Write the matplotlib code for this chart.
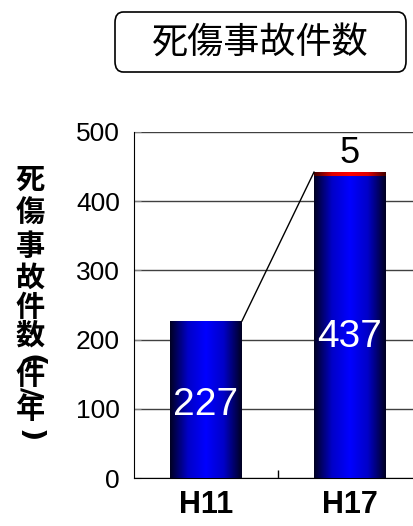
import numpy as np
import matplotlib
matplotlib.use("Agg")
import matplotlib.pyplot as plt
from matplotlib.colors import LinearSegmentedColormap
from matplotlib.patches import FancyBboxPatch

plt.rcParams['font.family'] = ['Liberation Sans', 'Noto Sans CJK JP', 'DejaVu Sans']

# data
years = ['H11', 'H17']
base = [227, 437]
extra = [0, 5]
yticks = [0, 100, 200, 300, 400, 500]
title = '死傷事故件数'
ylabel_chars = ['死', '傷', '事', '故', '件', '数', '(', '件', '/', '年', ')']

W, H = 413, 526
fig = plt.figure(figsize=(W / 100, H / 100), dpi=100)
# axes in pixel terms: x from 134 to 422, y 0 at 478, 500 at 132
ax = fig.add_axes([134 / W, (H - 478) / H, (422 - 134) / W, (478 - 132) / H])

blue_cm = LinearSegmentedColormap.from_list('b', ['#000022', '#0000c8', '#0000ff', '#0000c8', '#000022'])
red_cm = LinearSegmentedColormap.from_list('r', ['#400000', '#e00000', '#ff0000', '#e00000', '#400000'])
grad = np.linspace(0, 1, 200).reshape(1, -1)

bw = 0.5
x = np.arange(len(years))

def grad_bar(xc, y0, h, cmap):
    if h <= 0:
        return
    bars = ax.bar(xc, h, bw, bottom=y0, color='none', edgecolor='none', zorder=3)
    im = ax.imshow(grad, cmap=cmap, aspect='auto', zorder=3,
                   extent=[xc - bw / 2, xc + bw / 2, y0, y0 + h])
    im.set_clip_path(bars[0])

for i in range(len(years)):
    grad_bar(x[i], 0, base[i], blue_cm)
    grad_bar(x[i], base[i], extra[i], red_cm)

ax.set_xlim(-0.5, 1.5)
ax.set_ylim(0, 500)

# series line between stacks
tops = [b + e for b, e in zip(base, extra)]
ax.plot([x[0] + bw / 2, x[1] - bw / 2], [tops[0], tops[1]], color='black', lw=1, zorder=4)

# value labels
for i in range(len(years)):
    ax.text(x[i], base[i] * 0.465, str(base[i]), color='white', ha='center', va='center',
            fontsize=28, zorder=5)
ax.text(x[1], tops[1] + 1, str(extra[1]), color='black', ha='center', va='bottom', fontsize=26, zorder=5)

ax.set_yticks(yticks)
ax.set_yticklabels([str(v) for v in yticks], fontsize=19)
ax.tick_params(axis='y', direction='in', length=5, color='#808080', pad=10)
ax.yaxis.grid(True, color='#404040', lw=1)
ax.set_axisbelow(True)

ax.set_xticks([0.5])
ax.set_xticklabels([''])
ax.tick_params(axis='x', direction='in', length=6, width=1)
for i, lab in enumerate(years):
    ax.text(x[i], -39, lab, ha='center', va='center', fontsize=22, fontweight='bold')

for s in ['top', 'right']:
    ax.spines[s].set_visible(False)
ax.spines['left'].set_color('black')
ax.spines['bottom'].set_color('black')

# title box
box = FancyBboxPatch((115 / W, (H - 72) / H), (406 - 115) / W, 60 / H,
                     boxstyle='round,pad=0,rounding_size=0.02', transform=fig.transFigure,
                     facecolor='white', edgecolor='black', lw=1.2)
fig.patches.append(box)
fig.text(260 / W, (H - 44) / H, title, ha='center', va='center', fontsize=26,
         family=['Noto Sans CJK JP', 'DejaVu Sans'])

# vertical y label (brackets and slash turned as in vertical writing)
ys = [180, 213, 246, 278, 307, 336, 361, 375, 392, 409, 436]
rots = [0, 0, 0, 0, 0, 0, -90, 0, -90, 0, -90]
for ch, yy, r in zip(ylabel_chars, ys, rots):
    fam = ['DejaVu Sans'] if r else ['Noto Sans CJK JP', 'DejaVu Sans']
    fig.text(30 / W, (H - yy) / H, ch, ha='center', va='center', fontsize=21, fontweight='bold',
             rotation=r, family=fam)

fig.savefig('out.png', dpi=100)
